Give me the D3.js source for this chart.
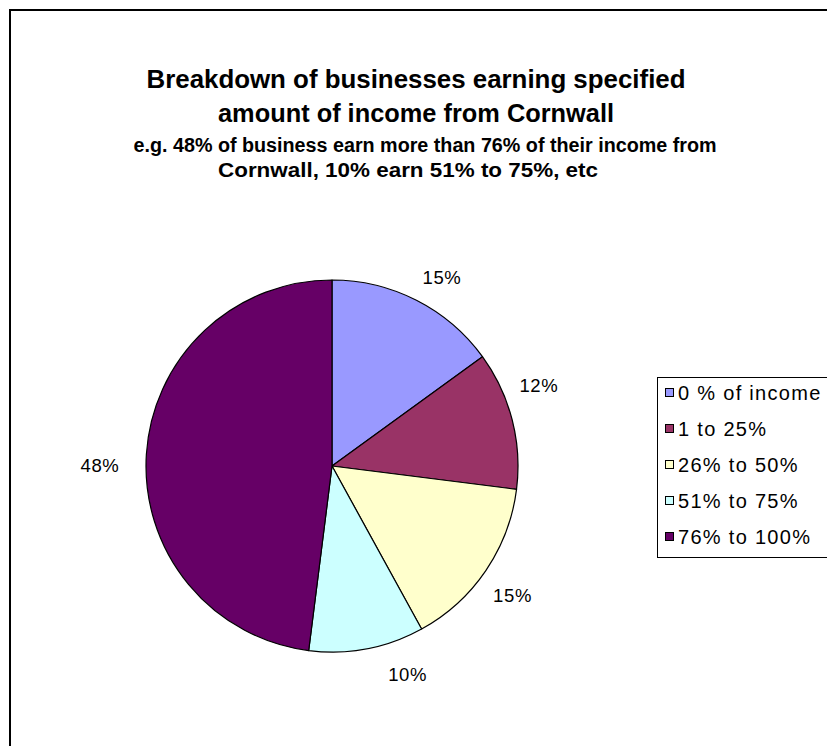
<!DOCTYPE html>
<html>
<head>
<meta charset="utf-8">
<script src="https://cdn.jsdelivr.net/npm/d3@7/dist/d3.min.js"></script>
<style>
  html, body { margin: 0; padding: 0; background: #fff; }
  svg { display: block; }
  text { font-family: "Liberation Sans", Arial, sans-serif; fill: #000; }
</style>
</head>
<body>
<svg id="chart" width="827" height="746"></svg>
<script>
// Share of businesses by portion of income earned from Cornwall
const categories = ["0 % of income", "1 to 25%", "26% to 50%", "51% to 75%", "76% to 100%"];
const shares = [15, 12, 15, 10, 48];
const sliceColors = ["#9999FF", "#993366", "#FFFFCC", "#CCFFFF", "#660066"];
const titleLines = ["Breakdown of businesses earning specified", "amount of income from Cornwall"];
const subtitleLines = ["e.g. 48% of business earn more than 76% of their income from", "Cornwall, 10% earn 51% to 75%, etc"];

const svg = d3.select("#chart");
const W = 827, H = 746;

// chart area frame (runs off the right and bottom edges)
svg.append("rect")
  .attr("x", 10).attr("y", 10)
  .attr("width", W + 20).attr("height", H + 20)
  .attr("fill", "#fff")
  .attr("stroke", "#000").attr("stroke-width", 2);

// titles, set to the line widths of the layout
const titleX = 416;
const titleWidths = [539, 396];
const subtitleWidths = [583, 380];
svg.selectAll("text.title").data(titleLines).join("text")
  .attr("class", "title")
  .attr("x", titleX)
  .attr("y", (d, i) => 88 + i * 34)
  .attr("text-anchor", "middle")
  .attr("font-size", 26)
  .attr("font-weight", "bold")
  .attr("textLength", (d, i) => titleWidths[i])
  .attr("lengthAdjust", "spacingAndGlyphs")
  .text(d => d);

svg.selectAll("text.subtitle").data(subtitleLines).join("text")
  .attr("class", "subtitle")
  .attr("x", (d, i) => i === 0 ? 425 : 408)
  .attr("y", (d, i) => 152 + i * 25)
  .attr("text-anchor", "middle")
  .attr("font-size", 19.5)
  .attr("font-weight", "bold")
  .attr("textLength", (d, i) => subtitleWidths[i])
  .attr("lengthAdjust", "spacingAndGlyphs")
  .text(d => d);

// pie
const cx = 332, cy = 466, R = 186;
const pie = d3.pie().sort(null).value(d => d)
  .startAngle(0).endAngle(2 * Math.PI);
const arcs = pie(shares);
const arc = d3.arc().innerRadius(0).outerRadius(R);

const g = svg.append("g").attr("transform", `translate(${cx},${cy})`);
g.selectAll("path").data(arcs).join("path")
  .attr("d", arc)
  .attr("fill", (d, i) => sliceColors[i])
  .attr("stroke", "#000")
  .attr("stroke-width", 1.2)
  .attr("stroke-linejoin", "round");

// percentage labels placed outside each slice
const labelRadius = 222;
const labelTurn = [3.3, -6.9, 1.4, -9.1, -3.6]; // degrees, fine placement of each label
g.selectAll("text.pct").data(arcs).join("text")
  .attr("class", "pct")
  .attr("transform", (d, i) => {
    const a = (d.startAngle + d.endAngle) / 2 + labelTurn[i] * Math.PI / 180;
    const r = labelRadius + (i === 4 ? 10 : 0) - (i === 0 ? 4 : 0);
    return `translate(${r * Math.sin(a)},${-r * Math.cos(a)})`;
  })
  .attr("text-anchor", "middle")
  .attr("dy", "0.35em")
  .attr("font-size", 18.5)
  .attr("letter-spacing", 0.6)
  .text(d => d3.format(".0%")(d.data / 100));

// legend
const lg = svg.append("g");
lg.append("rect")
  .attr("x", 657.5).attr("y", 377.5)
  .attr("width", 200).attr("height", 180)
  .attr("fill", "#fff")
  .attr("stroke", "#000").attr("stroke-width", 1);

const rowY = d3.scalePoint().domain(categories).range([393, 537]);
const item = lg.selectAll("g.item").data(categories).join("g")
  .attr("class", "item")
  .attr("transform", d => `translate(0,${rowY(d)})`);
item.append("rect")
  .attr("x", 665.5).attr("y", -4.5)
  .attr("width", 8).attr("height", 8)
  .attr("fill", (d, i) => sliceColors[i])
  .attr("stroke", "#000").attr("stroke-width", 1);
item.append("text")
  .attr("x", 678)
  .attr("dy", "0.36em")
  .attr("font-size", 20)
  .attr("letter-spacing", 1.3)
  .text(d => d);
</script>
</body>
</html>
